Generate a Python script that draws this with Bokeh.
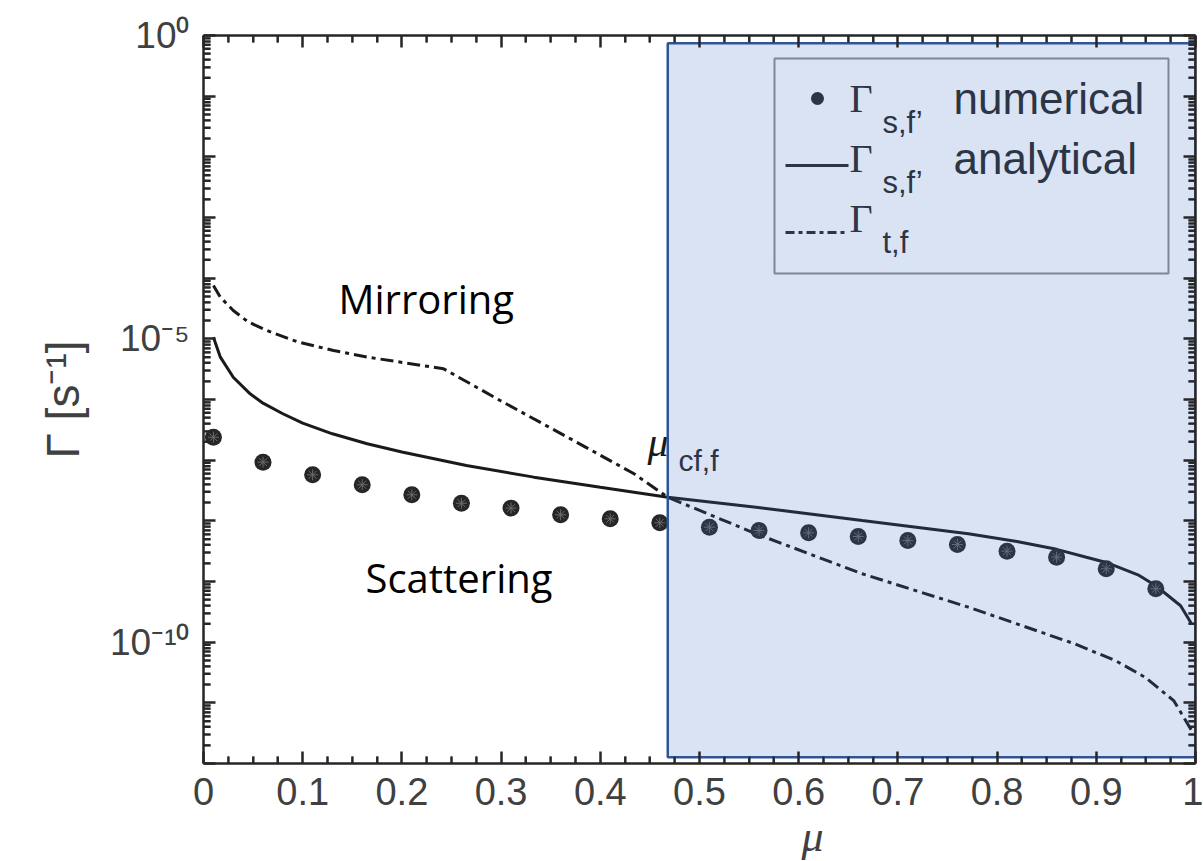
import math
from bokeh.plotting import figure
from bokeh.models import FixedTicker, LinearAxis, LogAxis, Range1d, Title, CustomJSTickFormatter
from bokeh.core.properties import value
from bokeh.embed import file_html
from bokeh.resources import INLINE

# ---------------- data ----------------
mu_numerical = [0.01, 0.06, 0.11, 0.16, 0.21, 0.26, 0.31, 0.36, 0.41, 0.46,
                0.51, 0.56, 0.61, 0.66, 0.71, 0.76, 0.81, 0.86, 0.91, 0.96]
gamma_numerical = [2.39e-7, 9.27e-8, 5.74e-8, 3.93e-8, 2.69e-8, 1.95e-8, 1.62e-8, 1.26e-8, 1.08e-8, 9.29e-9,
                   7.85e-9, 6.93e-9, 6.35e-9, 5.52e-9, 4.74e-9, 4.07e-9, 3.16e-9, 2.52e-9, 1.62e-9, 7.59e-10]

mu_analytical = [0.01, 0.017, 0.03, 0.047, 0.06, 0.08, 0.1, 0.13, 0.165, 0.2, 0.265, 0.333, 0.4,
                 0.468, 0.557, 0.664, 0.771, 0.82, 0.86, 0.89, 0.91, 0.942, 0.96, 0.985, 0.996]
gamma_analytical = [1.06e-5, 4.99e-6, 2.33e-6, 1.24e-6, 8.7e-7, 5.82e-7, 4.07e-7, 2.72e-7, 1.86e-7, 1.36e-7,
                    8.17e-8, 5.25e-8, 3.59e-8, 2.45e-8, 1.68e-8, 1.01e-8, 6.11e-9, 4.57e-9, 3.39e-9,
                    2.51e-9, 2.06e-9, 1.29e-9, 8.5e-10, 3.98e-10, 2.01e-10]

mu_transition = [0.01, 0.017, 0.03, 0.045, 0.064, 0.095, 0.131, 0.165, 0.199, 0.242, 0.299, 0.367, 0.434,
                 0.468, 0.557, 0.664, 0.771, 0.878, 0.92, 0.949, 0.978, 0.996]
gamma_transition = [7.57e-5, 4.86e-5, 2.93e-5, 1.9e-5, 1.37e-5, 8.9e-6, 6.43e-6, 5.0e-6, 4.12e-6, 3.21e-6,
                    9.64e-7, 2.39e-7, 5.97e-8, 2.45e-8, 6.12e-9, 1.34e-9, 3.78e-10, 9.42e-11, 4.9e-11,
                    2.65e-11, 1.09e-11, 3.51e-12]

mu_cf = 0.468  # critical pitch-angle cosine (start of shaded region)

x_ticks = [0, 0.1, 0.2, 0.3, 0.4, 0.5, 0.6, 0.7, 0.8, 0.9, 1.0]
x_tick_labels = ["0", "0.1", "0.2", "0.3", "0.4", "0.5", "0.6", "0.7", "0.8", "0.9", "1"]
y_label_ticks = [1e0, 1e-5, 1e-10]
y_tick_labels = ["10⁰", "10⁻⁵", "10⁻¹⁰"]

# ---------------- layout helpers (screen px -> data coords, for decorations) ----------------
FL, FR, FT, FB = 203, 1195, 35, 763
DEC = (FB - FT) / 12.0


def dx(sx):
    return (sx - FL) / (FR - FL)


def dy(sy):
    return 10 ** (-(sy - FT) / DEC)


SANS = "Liberation Sans"
SERIF = "Liberation Serif"
AX = "#262626"
LBL = "#404040"

p = figure(frame_width=FR - FL, frame_height=FB - FT,
           x_range=Range1d(0, 1), y_range=Range1d(1e-12, 1), y_axis_type="log",
           output_backend="svg", toolbar_location=None,
           min_border_left=FL, min_border_right=8, min_border_top=FT, min_border_bottom=861 - FB,
           background_fill_color="white", border_fill_color="white", outline_line_color=None)
p.grid.visible = False

x_minor = [i * 0.025 for i in range(41) if i % 4 != 0]
y_major = [10.0 ** (-k) for k in range(13)]
y_minor = [m * 10.0 ** (-k) for k in range(1, 13) for m in range(2, 10)]

xlab_fmt = CustomJSTickFormatter(args=dict(tick_vals=x_ticks, tick_texts=x_tick_labels), code="""
const i = tick_vals.findIndex(t => Math.abs(t - tick) < 1e-9);
return i >= 0 ? tick_texts[i] : '';
""")
ylab_fmt = CustomJSTickFormatter(args=dict(tick_vals=y_label_ticks, tick_texts=y_tick_labels), code="""
const i = tick_vals.findIndex(t => Math.abs(Math.log10(t) - Math.log10(tick)) < 1e-6);
return i >= 0 ? tick_texts[i] : '';
""")
empty_fmt = CustomJSTickFormatter(code="return '';")


def style_axis(ax, show_labels=False):
    ax.axis_line_color = AX
    ax.axis_line_width = 2.5
    ax.major_tick_line_color = AX
    ax.minor_tick_line_color = AX
    ax.major_tick_line_width = 2.5
    ax.minor_tick_line_width = 2
    ax.major_tick_in = 12
    ax.major_tick_out = 0
    ax.minor_tick_in = 7
    ax.minor_tick_out = 0
    if not show_labels:
        ax.major_label_text_font_size = "0px"
        ax.major_label_standoff = 0
        ax.axis_label_standoff = 0


# bottom x axis
xb = p.xaxis[0]
xb.ticker = FixedTicker(ticks=x_ticks, minor_ticks=x_minor)
xb.formatter = xlab_fmt
style_axis(xb, show_labels=True)
xb.major_label_text_font = SANS
xb.major_label_text_font_size = "38px"
xb.major_label_text_color = LBL
xb.major_label_text_line_height = 0.9
xb.major_label_standoff = 14

# left y axis
yl = p.yaxis[0]
yl.ticker = FixedTicker(ticks=y_major, minor_ticks=y_minor)
yl.formatter = ylab_fmt
style_axis(yl, show_labels=True)
yl.major_label_text_font = SANS
yl.major_label_text_font_size = "37px"
yl.major_label_text_color = LBL
yl.major_label_standoff = 14
yl.axis_label = "Γ [s⁻¹]"
yl.axis_label_text_font = SANS
yl.axis_label_text_font_style = "normal"
yl.axis_label_text_font_size = "46px"
yl.axis_label_text_color = LBL
yl.axis_label_standoff = 18

# top / right axes (ticks only)
xt = LinearAxis(ticker=FixedTicker(ticks=x_ticks, minor_ticks=x_minor), formatter=empty_fmt)
style_axis(xt)
p.add_layout(xt, "above")
yr = LogAxis(ticker=FixedTicker(ticks=y_major, minor_ticks=y_minor), formatter=empty_fmt)
style_axis(yr)
p.add_layout(yr, "right")

# x axis title (MATLAB placed it right of centre)
p.add_layout(Title(text="μ", align="left", offset=598, standoff=4, text_font=SERIF,
                   text_font_style="italic", text_font_size="44px", text_line_height=0.9,
                   text_color=LBL), "below")

# minor ticks drawn as short inward segments on all four sides of the box
TK = 7
nx = len(x_minor)
ny = len(y_minor)
p.segment(x0=x_minor, x1=x_minor, y0=[1e-12] * nx, y1=[dy(FB - TK)] * nx, line_color=AX, line_width=2)
p.segment(x0=x_minor, x1=x_minor, y0=[1.0] * nx, y1=[dy(FT + TK)] * nx, line_color=AX, line_width=2)
p.segment(x0=[0.0] * ny, x1=[dx(FL + TK)] * ny, y0=y_minor, y1=y_minor, line_color=AX, line_width=2)
p.segment(x0=[1.0] * ny, x1=[dx(FR - TK)] * ny, y0=y_minor, y1=y_minor, line_color=AX, line_width=2)

# ---------------- data glyphs ----------------
LINE = "#1a1a1a"
p.line(mu_transition, gamma_transition, line_color=LINE, line_width=3, line_dash="13 5 4 5")
p.line(mu_analytical, gamma_analytical, line_color=LINE, line_width=3)
p.scatter(mu_numerical, gamma_numerical, marker="circle", size=17, fill_color="#262626", line_color=None)
p.scatter(mu_numerical, gamma_numerical, marker="asterisk", size=11, line_color="#6a6a6a", line_width=1)

# region annotations
p.text(x=[dx(338)], y=[dy(298)], text=["Mirroring"], text_font=value("Open Sans"),
       text_font_size="40px", text_color="black", text_align="left", text_baseline="alphabetic")
p.text(x=[dx(365)], y=[dy(577)], text=["Scattering"], text_font=value("Open Sans"),
       text_font_size="40px", text_color="black", text_align="left", text_baseline="alphabetic")
p.text(x=[dx(647)], y=[dy(441)], text=["μ"], text_font=value(SERIF), text_font_style="italic",
       text_font_size="42px", text_color="#1a1a1a", text_align="left", text_baseline="alphabetic")
p.text(x=[dx(678)], y=[dy(460)], text=["cf,f"], text_font=value(SANS),
       text_font_size="30px", text_color="#262626", text_align="left", text_baseline="alphabetic")

# ---------------- legend (drawn by hand because of the subscripts) ----------------
p.quad(left=[dx(774)], right=[dx(1168)], top=[dy(58)], bottom=[dy(273)],
       fill_color="white", line_color="#8c8c8c", line_width=2)
p.scatter([dx(817)], [dy(98)], marker="circle", size=13, fill_color="#262626", line_color=None)
p.line([dx(785), dx(848)], [dy(165), dy(165)], line_color="#262626", line_width=3)
p.line([dx(785), dx(848)], [dy(232), dy(232)], line_color="#262626", line_width=3, line_dash="9 4 4 4")
rows = [(98, "s,f’", "numerical"), (158, "s,f’", "analytical"), (218, "t,f", "")]
for base, sub, word in rows:
    p.text(x=[dx(849)], y=[dy(base)], text=["Γ"], text_font=value(SERIF), text_font_size="40px",
           text_color="#262626", text_align="left", text_baseline="alphabetic")
    p.text(x=[dx(882)], y=[dy(base + 24)], text=[sub], text_font=value(SANS), text_font_size="31px",
           text_color="#262626", text_align="left", text_baseline="alphabetic")
    if word:
        p.text(x=[dx(953)], y=[dy(base)], text=[word], text_font=value(SANS), text_font_size="44px",
               text_color="#262626", text_align="left", text_baseline="alphabetic")

# ---------------- shaded region (semi-transparent overlay, drawn last) ----------------
p.quad(left=[mu_cf], right=[1.0], top=[dy(42.7)], bottom=[dy(756.7)],
       fill_color="#4472C4", fill_alpha=0.2, line_color="#2F5597", line_width=2.5)

open("out.html", "w").write(file_html(p, INLINE))
